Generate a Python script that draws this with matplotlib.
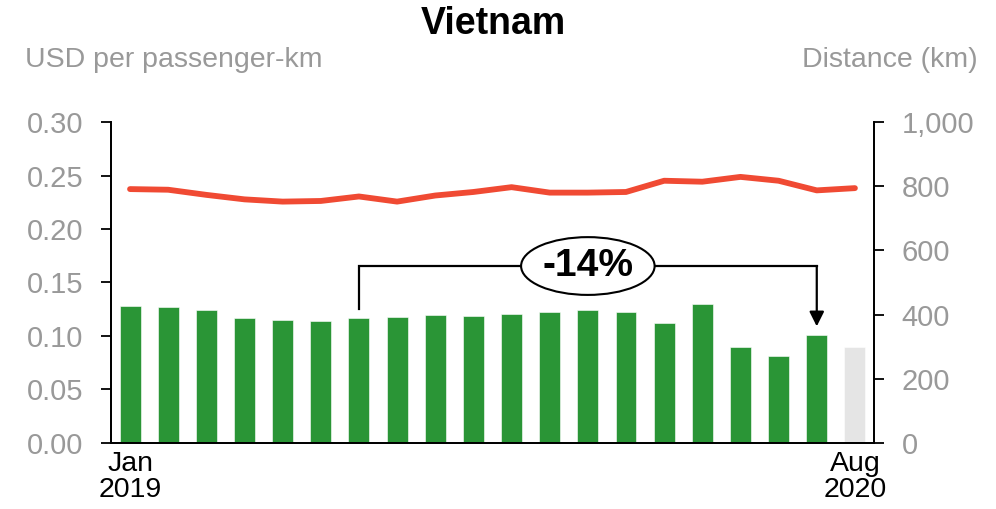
import numpy as np
import matplotlib
matplotlib.use("Agg")
import matplotlib.pyplot as plt
from matplotlib.patches import Ellipse

plt.rcParams["font.family"] = ["Liberation Sans", "DejaVu Sans"]

# Monthly series, Jan 2019 .. Aug 2020 (last month is preliminary)
months = ["Jan 2019", "Feb 2019", "Mar 2019", "Apr 2019", "May 2019",
          "Jun 2019", "Jul 2019", "Aug 2019", "Sep 2019", "Oct 2019",
          "Nov 2019", "Dec 2019", "Jan 2020", "Feb 2020", "Mar 2020",
          "Apr 2020", "May 2020", "Jun 2020", "Jul 2020", "Aug 2020"]
fare = [0.128, 0.127, 0.124, 0.117, 0.115, 0.114, 0.117, 0.118, 0.120,
        0.119, 0.121, 0.122, 0.124, 0.122, 0.112, 0.130, 0.090, 0.081,
        0.101, 0.090]
distance = [791, 789, 773, 759, 752, 754, 768, 752, 771, 782, 797, 780,
            780, 782, 817, 814, 829, 817, 787, 794]
tick_labels = {0: "Jan\n2019", 19: "Aug\n2020"}
change_from, change_to = 6, 18
change_label = "-14%"

GREEN = "#2A9536"
GREY_BAR = "#E5E5E5"
RED = "#F04A33"
GREY_TXT = "#999999"

fig = plt.figure(figsize=(9.96, 5.09), dpi=100)
ax = fig.add_axes([0.1114, 0.1297, 0.7661, 0.6306])
ax2 = ax.twinx()

x = np.arange(len(months))
colors = [GREEN] * (len(months) - 1) + [GREY_BAR]
ax.bar(x, fare, width=0.55, color=colors, edgecolor="white",
       linewidth=0.4, zorder=2)
ax2.plot(x, distance, color=RED, lw=4.2, solid_capstyle="round",
         solid_joinstyle="round", zorder=3)

ax.set_xlim(-0.5, len(months) - 0.5)
ax.set_ylim(0, 0.30)
ax.set_yticks(np.arange(0, 0.301, 0.05))
ax.set_yticklabels([f"{v:.2f}" for v in np.arange(0, 0.301, 0.05)])
ax2.set_ylim(0, 1000)
ax2.set_yticks(range(0, 1001, 200))
ax2.set_yticklabels([f"{v:,}" for v in range(0, 1001, 200)])

ax.set_xticks(list(tick_labels.keys()))
ax.set_xticklabels(list(tick_labels.values()), fontsize=20.5,
                   color="black", linespacing=1.0)
ax.tick_params(axis="x", length=0, pad=6)
ax.tick_params(axis="y", length=7, width=1.3, labelsize=21,
               labelcolor=GREY_TXT, pad=13)
ax2.tick_params(axis="y", length=7, width=1.3, labelsize=21,
                labelcolor=GREY_TXT, pad=13)

for a in (ax, ax2):
    a.spines["top"].set_visible(False)
    for s in ("left", "right", "bottom"):
        a.spines[s].set_linewidth(1.3)

# bracket showing the change between two months
y_br = 0.1654
ax2.set_zorder(ax.get_zorder() + 1)
ax.patch.set_visible(True)
ax2.patch.set_visible(False)
ax.plot([change_from, change_from, change_to],
        [fare[change_from] + 0.008, y_br, y_br],
        color="black", lw=1.6, zorder=4, solid_joinstyle="miter")
ax.annotate("", xy=(change_to, fare[change_to] + 0.008),
            xytext=(change_to, y_br),
            arrowprops=dict(arrowstyle="-|>", color="black", lw=1.6,
                            mutation_scale=22, shrinkA=0, shrinkB=0),
            zorder=4)
mid = (change_from + change_to) / 2
ax.add_patch(Ellipse((mid, y_br), 3.5, 0.054, facecolor="white",
                     edgecolor="black", lw=1.5, zorder=5))
ax.text(mid, y_br, change_label, ha="center", va="center",
        fontsize=28, fontweight="bold", zorder=6)

fig.text(0.495, 0.953, "Vietnam", ha="center", va="center",
         fontsize=27, fontweight="bold")
fig.text(0.025, 0.882, "USD per passenger-km", ha="left", va="center",
         fontsize=20.5, color=GREY_TXT)
fig.text(0.982, 0.882, "Distance (km)", ha="right", va="center",
         fontsize=20.5, color=GREY_TXT)

fig.savefig("out.png", dpi=100)
